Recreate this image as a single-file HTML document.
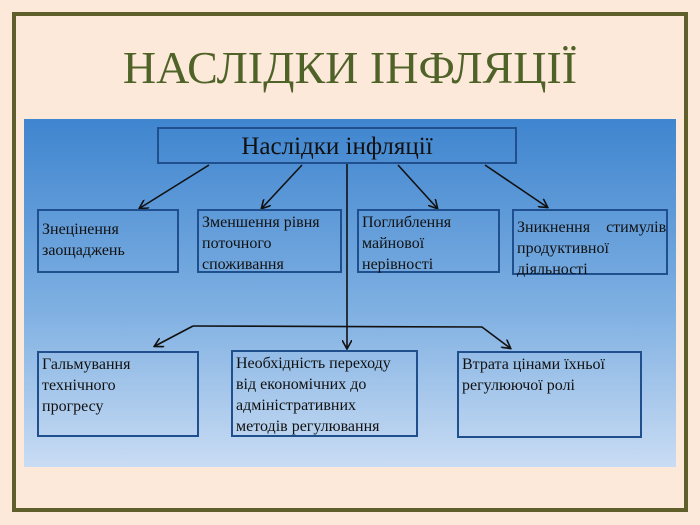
<!DOCTYPE html>
<html><head><meta charset="utf-8"><style>
body{margin:0;width:700px;height:525px;background:#fde9d9;position:relative;overflow:hidden;font-family:"Liberation Serif",serif}
.frame{position:absolute;left:12px;top:12px;width:668px;height:492px;border:4px solid #5f5f2c}
.title{position:absolute;left:0;width:700px;top:39px;text-align:center;color:#4f6228;font-size:46px;line-height:58px}
.pic{position:absolute;left:24px;top:119px;width:652px;height:348px;background:linear-gradient(#3f85cf,#7fb0e2 55%,#c9dcf3)}
.b{position:absolute;border:2px solid #1f4f8c;box-sizing:border-box;font-size:16px;line-height:21px;color:#111;padding:1px 3px;white-space:nowrap}
svg{position:absolute;left:0;top:0}
</style></head><body>
<div class="frame"></div>
<div class="title">НАСЛІДКИ ІНФЛЯЦІЇ</div>
<div class="pic"></div>
<svg width="700" height="525"><defs><marker id="a" markerWidth="10" markerHeight="10" refX="8" refY="5" orient="auto" markerUnits="userSpaceOnUse"><path d="M0,0 L9,5 L0,10" fill="none" stroke="#111" stroke-width="1.6"/></marker></defs>
<g stroke="#111" stroke-width="1.6" fill="none">
<line x1="209" y1="165" x2="140" y2="208" marker-end="url(#a)"/>
<line x1="302" y1="165" x2="262" y2="208" marker-end="url(#a)"/>
<line x1="398" y1="165" x2="437" y2="208" marker-end="url(#a)"/>
<line x1="485" y1="165" x2="547" y2="207" marker-end="url(#a)"/>
<line x1="347" y1="163" x2="347" y2="348" marker-end="url(#a)"/>
<polyline points="193,326 482,327 510,348" marker-end="url(#a)"/>
<line x1="193" y1="326" x2="155" y2="346" marker-end="url(#a)"/>
</g></svg>
<div class="b" style="left:157px;top:127px;width:360px;height:37px;font-size:25px;line-height:33px;text-align:center">Наслідки інфляції</div>
<div class="b" style="left:37px;top:209px;width:142px;height:64px;padding-top:8px">Знецінення<br>заощаджень</div>
<div class="b" style="left:197px;top:209px;width:145px;height:64px">Зменшення рівня<br>поточного<br>споживання</div>
<div class="b" style="left:357px;top:209px;width:143px;height:64px">Поглиблення<br>майнової<br>нерівності</div>
<div class="b" style="left:512px;top:209px;width:156px;height:66px;padding-top:6px">Зникнення&nbsp;&nbsp;&nbsp;&nbsp;стимулів<br>продуктивної<br>діяльності</div>
<div class="b" style="left:37px;top:351px;width:162px;height:86px">Гальмування<br>технічного<br>прогресу</div>
<div class="b" style="left:231px;top:350px;width:187px;height:87px">Необхідність переходу<br>від економічних до<br>адміністративних<br>методів регулювання</div>
<div class="b" style="left:457px;top:351px;width:185px;height:87px">Втрата цінами їхньої<br>регулюючої ролі</div>
</body></html>
